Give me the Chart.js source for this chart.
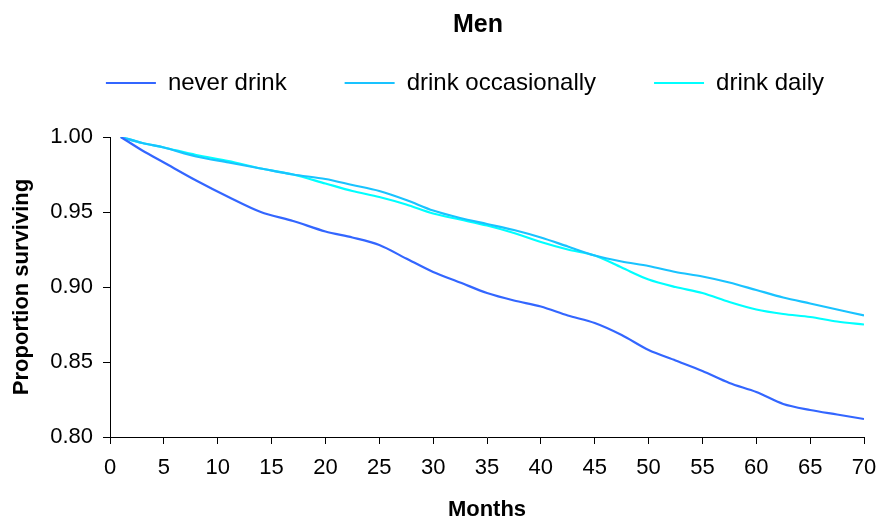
<!DOCTYPE html>
<html>
<head>
<meta charset="utf-8">
<script src="https://cdn.jsdelivr.net/npm/chart.js@4"></script>
<style>
  html, body { margin: 0; padding: 0; background: #ffffff; }
  #wrap { width: 882px; height: 523px; position: relative; }
</style>
</head>
<body>
<div id="wrap"><canvas id="c" width="882" height="523"></canvas></div>
<script>
// ---- Data ----
const chartTitle = "Men";
const xTitle = "Months";
const yTitle = "Proportion surviving";
const seriesNames = ["never drink", "drink occasionally", "drink daily"];
const months = [1, 3, 5, 8, 11, 14, 17, 20, 22.5, 25, 27.5, 30, 32.5, 35, 37.5, 40, 42.5, 45, 47.5, 50, 52.5, 55, 57.5, 60, 62.5, 65, 67.5, 70];
const neverDrink = [1.000, 0.991, 0.983, 0.971, 0.960, 0.950, 0.944, 0.937, 0.933, 0.928, 0.919, 0.910, 0.903, 0.896, 0.891, 0.887, 0.881, 0.876, 0.868, 0.858, 0.851, 0.844, 0.836, 0.830, 0.822, 0.818, 0.815, 0.812];
const drinkOccasionally = [1.000, 0.996, 0.993, 0.987, 0.983, 0.979, 0.975, 0.972, 0.968, 0.964, 0.958, 0.951, 0.946, 0.942, 0.938, 0.933, 0.927, 0.921, 0.917, 0.914, 0.910, 0.907, 0.903, 0.898, 0.893, 0.889, 0.885, 0.881];
const drinkDaily = [1.000, 0.996, 0.993, 0.988, 0.984, 0.979, 0.975, 0.969, 0.964, 0.960, 0.955, 0.949, 0.945, 0.941, 0.936, 0.930, 0.925, 0.921, 0.913, 0.905, 0.900, 0.896, 0.890, 0.885, 0.882, 0.880, 0.877, 0.875];
const xTicks = [0, 5, 10, 15, 20, 25, 30, 35, 40, 45, 50, 55, 60, 65, 70];
const yTicks = [0.80, 0.85, 0.90, 0.95, 1.00];

const colors = ["#3366FF", "#19C3FF", "#00FFFF"];
const FONT = "'Liberation Sans', Arial, sans-serif";

function toPoints(xs, ys) { return xs.map((x, i) => ({ x: x, y: ys[i] })); }

const seriesValues = [neverDrink, drinkOccasionally, drinkDaily];
const datasets = seriesNames.map((name, i) => ({
  label: name,
  data: toPoints(months, seriesValues[i]),
  borderColor: colors[i],
  backgroundColor: colors[i],
  borderWidth: 2.2,
  pointRadius: 0,
  tension: 0.3,
  fill: false,
  pointStyle: 'line'
}));

// Nudge the title and legend boxes to sit where the reference puts them.
const boxShift = {
  id: 'boxShift',
  afterLayout(chart) {
    const lg = chart.legend;
    if (lg) {
      const dx = 24, dy = -32;
      lg.left += dx; lg.right += dx;
      lg.top += dy; lg.bottom += dy;
    }
    const tt = chart.titleBlock;
    if (tt) {
      tt.left += 37; tt.right += 37;
    }
  }
};

new Chart(document.getElementById('c'), {
  type: 'line',
  data: { datasets: datasets },
  plugins: [boxShift],
  options: {
    responsive: false,
    animation: false,
    layout: { padding: { left: 0, right: 0, top: 0, bottom: 0 } },
    plugins: {
      title: {
        display: true,
        text: chartTitle,
        color: '#000',
        font: { family: FONT, size: 25, weight: 'bold' },
        padding: { top: 10, bottom: 5 }
      },
      legend: {
        display: true,
        position: 'top',
        labels: {
          color: '#000',
          font: { family: FONT, size: 24 },
          usePointStyle: true,
          pointStyle: 'line',
          pointStyleWidth: 50,
          boxHeight: 24,
          padding: 58
        }
      },
      tooltip: { enabled: false }
    },
    scales: {
      x: {
        type: 'linear',
        min: 0,
        max: 70,
        afterBuildTicks: (s) => { s.ticks = xTicks.map(v => ({ value: v })); },
        afterFit: (s) => { s.height = 86; s.paddingLeft = 0; s.paddingRight = 18; },
        ticks: {
          color: '#000',
          font: { family: FONT, size: 22 },
          padding: 11,
          maxRotation: 0,
          autoSkip: false
        },
        grid: { display: true, drawOnChartArea: false, drawTicks: true, tickLength: 7, color: '#000', lineWidth: 1 },
        border: { display: true, color: '#000', width: 1 },
        title: {
          display: true,
          text: xTitle,
          color: '#000',
          font: { family: FONT, size: 22, weight: 'bold' },
          padding: { top: 8, bottom: 0 }
        }
      },
      y: {
        type: 'linear',
        min: 0.80,
        max: 1.00,
        afterBuildTicks: (s) => { s.ticks = yTicks.map(v => ({ value: v })); },
        afterFit: (s) => { s.width = 110; },
        ticks: {
          color: '#000',
          font: { family: FONT, size: 22 },
          padding: 10,
          callback: (v) => Number(v).toFixed(2)
        },
        grid: { display: true, drawOnChartArea: false, drawTicks: true, tickLength: 7, color: '#000', lineWidth: 1 },
        border: { display: true, color: '#000', width: 1 },
        title: {
          display: true,
          text: yTitle,
          color: '#000',
          font: { family: FONT, size: 22, weight: 'bold' },
          padding: { top: 9, bottom: 0 }
        }
      }
    }
  }
});
</script>
</body>
</html>
